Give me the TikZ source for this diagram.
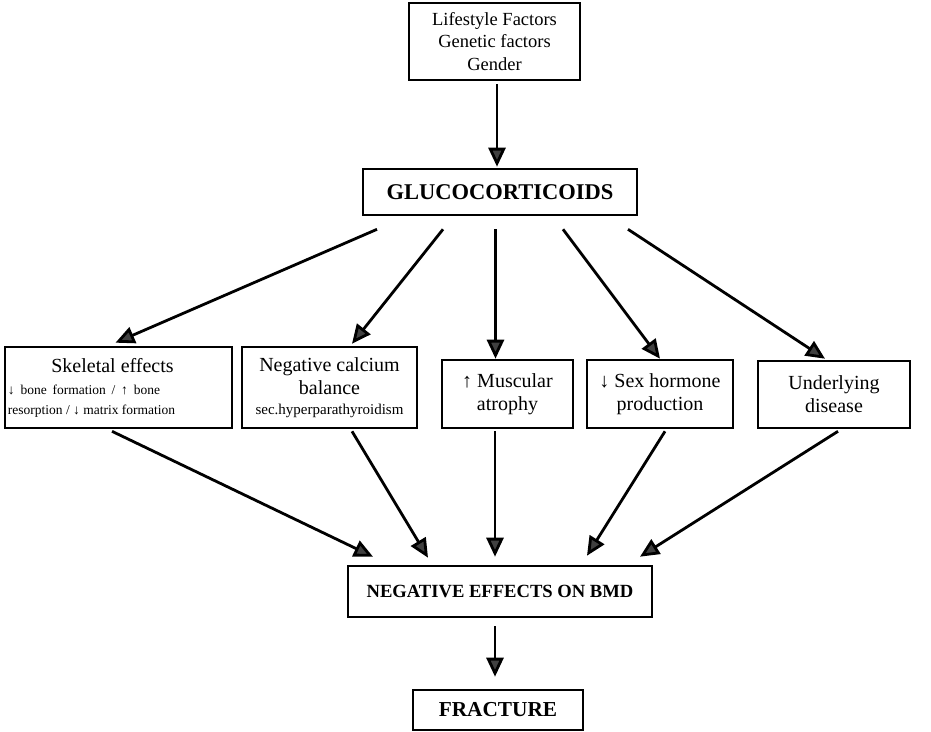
\documentclass[tikz,border=0pt]{standalone}
\usepackage{fontspec}
\setmainfont{Liberation Serif}
\usetikzlibrary{arrows.meta,calc}
\begin{document}
\begin{tikzpicture}[x=1pt,y=-1pt,
  box/.style={draw=black,line width=2.6pt,inner sep=0pt,align=center,fill=white},
  arr/.style={draw=black,line width=2.8pt,-{Triangle[length=19pt,width=17pt,fill=gray!50!black]}},
  mid/.style={font=\fontsize{20}{23}\selectfont},
  bigb/.style={font=\fontsize{22.5}{24}\selectfont\bfseries}]
\useasboundingbox[fill=white] (0,0) rectangle (931,731);
\node[box,font=\fontsize{18.5}{22.5}\selectfont,minimum width=171pt,minimum height=77pt] (top) at (494.5,41.5) {Lifestyle Factors\\Genetic factors\\Gender};
\node[box,bigb,minimum width=274pt,minimum height=46pt] (gluco) at (500,192) {GLUCOCORTICOIDS};
\node[box,font=\fontsize{13.5}{20}\selectfont,minimum width=227pt,minimum height=81pt,align=left] (b1) at (118.5,387.5)
  {\makebox[209pt][c]{\fontsize{20}{20}\selectfont Skeletal effects}\hspace*{12pt}\\[2pt]\makebox[221pt][l]{\makebox[152pt][s]{↓ bone formation / ↑ bone}}\\\makebox[221pt][l]{resorption / ↓ matrix formation}};
\node[box,font=\fontsize{15}{20}\selectfont,minimum width=175pt,minimum height=81pt] (b2) at (329.5,387.5)
  {{\fontsize{20}{20}\selectfont Negative calcium}\\[3pt]{\fontsize{20}{20}\selectfont balance}\\sec.hyperparathyroidism};
\node[box,mid,minimum width=131pt,minimum height=68pt] (b3) at (507.5,394) {↑ Muscular\\atrophy};
\node[box,mid,minimum width=146pt,minimum height=68pt] (b4) at (660,394) {↓ Sex hormone\\production};
\node[box,mid,minimum width=152pt,minimum height=67pt] (b5) at (834,394.5) {Underlying\\disease};
\node[box,font=\fontsize{18.6}{20}\selectfont\bfseries,minimum width=304pt,minimum height=51pt] (neg) at (500,591.5) {NEGATIVE EFFECTS ON BMD};
\node[box,font=\fontsize{21.3}{22}\selectfont\bfseries,minimum width=170pt,minimum height=40pt] (frac) at (498,710) {FRACTURE};
\draw[arr] ($(top.south)+(2.5,3)$) -- ($(gluco.north)+(-3,-1)$);
\draw[arr] ($(gluco.south)+(-123,13)$) -- ($(b1.north)+(-3,-3)$);
\draw[arr] ($(gluco.south)+(-57,13)$) -- ($(b2.north)+(22.5,-2)$);
\draw[arr] ($(gluco.south)+(-4.5,13)$) -- ($(b3.north)+(-12,0)$);
\draw[arr] ($(gluco.south)+(63,13)$) -- ($(b4.north)+(0,0)$);
\draw[arr] ($(gluco.south)+(128,13)$) -- ($(b5.north)+(-9,-1)$);
\draw[arr] ($(b1.south)+(-6.5,2)$) -- ($(neg.north)+(-127,-8)$);
\draw[arr] ($(b2.south)+(22.5,2)$) -- ($(neg.north)+(-72,-7)$);
\draw[arr] ($(b3.south)+(-12.5,2)$) -- ($(neg.north)+(-5,-8)$);
\draw[arr] ($(b4.south)+(5,2)$) -- ($(neg.north)+(87,-9)$);
\draw[arr] ($(b5.south)+(4,2)$) -- ($(neg.north)+(140,-8)$);
\draw[arr] ($(neg.south)+(-5,8)$) -- ($(frac.north)+(-3,-12)$);
\end{tikzpicture}
\end{document}
